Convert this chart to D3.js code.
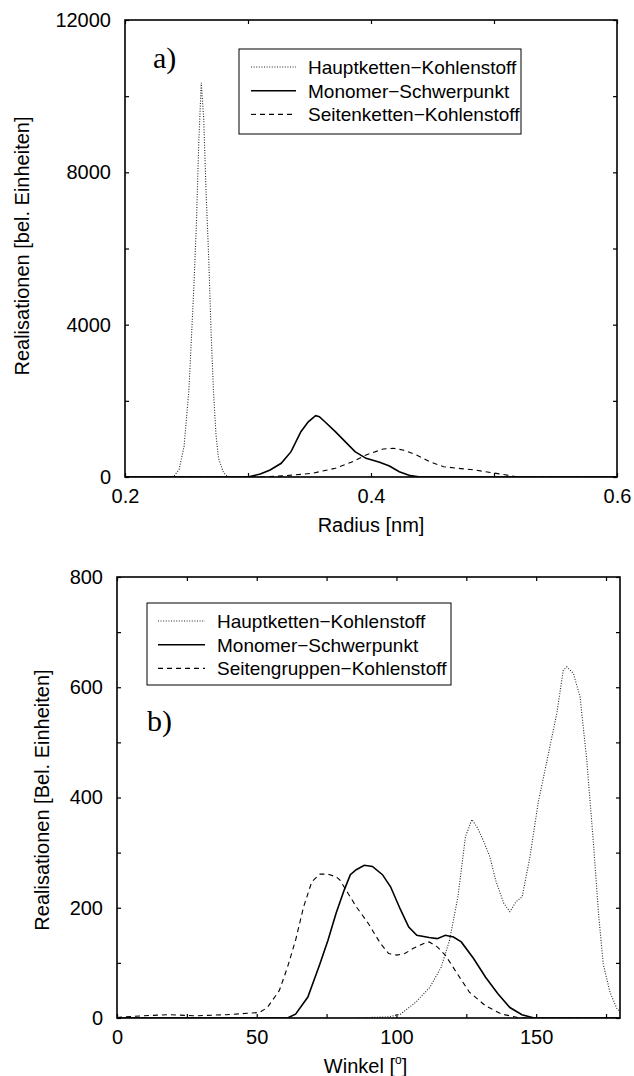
<!DOCTYPE html>
<html>
<head>
<meta charset="utf-8">
<title>Realisationen</title>
<script src="https://cdn.jsdelivr.net/npm/d3@7"></script>
<style>
	body { margin: 0; background: #fff; }
	svg text { font-family: "Liberation Sans", Arial, Helvetica, sans-serif; fill: #000; }
	.panel-label { font-family: "Liberation Serif", "Times New Roman", serif; }
</style>
</head>
<body>
<svg id="chart" width="634" height="1076"></svg>
<script>
// ---- panel a) : Radius-Verteilung ----
var radiusHaupt = [0.200, 0.236, 0.240, 0.244, 0.248, 0.252, 0.256, 0.258, 0.260, 0.262, 0.264, 0.266, 0.268, 0.270, 0.272, 0.274, 0.276, 0.280, 0.284, 0.600];
var valuesHauptA = [0, 0, 30, 200, 800, 2300, 5000, 6600, 8800, 10350, 9400, 7400, 5800, 3800, 2200, 1100, 500, 120, 0, 0];

var radiusMono = [0.200, 0.300, 0.310, 0.318, 0.327, 0.335, 0.343, 0.349, 0.355, 0.358, 0.3625, 0.371, 0.379, 0.387, 0.396, 0.407, 0.415, 0.423, 0.432, 0.440, 0.600];
var valuesMonoA = [0, 0, 80, 185, 360, 665, 1190, 1450, 1610, 1585, 1450, 1190, 930, 665, 490, 385, 290, 140, 35, 0, 0];

var radiusSeiten = [0.200, 0.310, 0.329, 0.352, 0.371, 0.385, 0.396, 0.410, 0.418, 0.426, 0.437, 0.448, 0.459, 0.473, 0.484, 0.498, 0.509, 0.517, 0.528, 0.600];
var valuesSeitenA = [0, 0, 30, 95, 230, 400, 580, 735, 755, 710, 580, 400, 270, 220, 185, 115, 60, 10, 0, 0];

var radiusTicks = [0.2, 0.3, 0.4, 0.5, 0.6];
var radiusLabels = [0.2, 0.4, 0.6];
var countTicksA = [0, 2000, 4000, 6000, 8000, 10000, 12000];
var countLabelsA = [0, 4000, 8000, 12000];
var legendA = ["Hauptketten\u2212Kohlenstoff", "Monomer\u2212Schwerpunkt", "Seitenketten\u2212Kohlenstoff"];

// ---- panel b) : Winkel-Verteilung ----
var winkelHaupt = [0, 84, 97, 101.5, 107, 112, 116, 119, 122, 124.7, 127, 129, 131, 133.4, 135.5, 138.4, 140.6, 142.8, 145, 147.8, 150.7, 154, 157.4, 159.7, 161, 163.3, 165.7, 168.1, 170.5, 172.3, 174, 176.4, 178.8, 180];
var valuesHauptB = [0, 0, 2, 7, 29, 56, 92, 141, 220, 329, 360, 345, 323, 293, 250, 208, 193, 211, 220, 293, 390, 470, 553, 631, 637, 625, 583, 468, 317, 190, 98, 47, 18, 12];

var winkelMono = [0, 61, 63.9, 68.3, 72.6, 75.5, 78.4, 81.3, 83.5, 85.6, 88.5, 91.4, 95, 97.9, 101.5, 104.4, 107.3, 111.7, 114.6, 117.5, 120.4, 123.2, 127.6, 131.9, 136.3, 140.6, 144.9, 149.3, 180];
var valuesMonoB = [0, 0, 7, 38, 98, 141, 190, 232, 260, 269, 277, 275, 260, 238, 196, 165, 150, 146, 144, 150, 147, 138, 108, 74, 44, 19, 6, 0, 0];

var winkelSeiten = [0, 9, 19, 28, 39, 46.6, 51, 53.8, 58.1, 61, 63.9, 66.8, 69.7, 72.6, 75.5, 78.4, 79.8, 82.7, 85.6, 90, 94.3, 97.2, 100.1, 103, 105.9, 110.2, 111.7, 114.6, 117.5, 121.8, 126.1, 131.9, 137.7, 143.5, 146.4, 180];
var valuesSeitenB = [1, 4, 6, 4, 6, 8.5, 10, 19, 50, 92, 141, 202, 247, 261, 261, 256, 250, 226, 202, 171, 135, 117, 114, 117, 126, 136, 138, 129, 114, 80, 47, 22, 7, 1, 0, 0];

var winkelTicks = [0, 25, 50, 75, 100, 125, 150, 175];
var winkelLabels = [0, 50, 100, 150];
var countTicksB = [0, 100, 200, 300, 400, 500, 600, 700, 800];
var countLabelsB = [0, 200, 400, 600, 800];
var legendB = ["Hauptketten\u2212Kohlenstoff", "Monomer\u2212Schwerpunkt", "Seitengruppen\u2212Kohlenstoff"];

// line styles: dotted, solid, dashed
var styles = [
	{ width: 1.1, dash: "1,1.6", color: "#222" },
	{ width: 1.6, dash: null, color: "#000" },
	{ width: 1.1, dash: "5,4", color: "#000" }
];

function zip(xs, ys) {
	return xs.map(function(x, i) { return { x: x, y: ys[i] }; });
}

var svg = d3.select("#chart");

function drawPanel(p) {
	var g = svg.append("g").attr("transform", "translate(" + p.left + "," + p.top + ")");

	var x = d3.scaleLinear().domain(p.xDomain).range([0, p.width]);
	var y = d3.scaleLinear().domain(p.yDomain).range([p.height, 0]);

	g.append("clipPath").attr("id", p.id + "-clip")
		.append("rect").attr("width", p.width).attr("height", p.height);

	var line = d3.line()
		.x(function(d) { return x(d.x); })
		.y(function(d) { return y(d.y); });

	// curves
	g.append("g").attr("clip-path", "url(#" + p.id + "-clip)")
		.selectAll("path")
		.data(p.series)
		.enter().append("path")
		.attr("d", function(d) { return line(d); })
		.attr("fill", "none")
		.attr("stroke", function(d, i) { return styles[i].color; })
		.attr("stroke-width", function(d, i) { return styles[i].width; })
		.attr("stroke-dasharray", function(d, i) { return styles[i].dash; });

	var xFmt = function(d) { return p.xLabels.indexOf(d) >= 0 ? p.xFormat(d) : ""; };
	var yFmt = function(d) { return p.yLabels.indexOf(d) >= 0 ? p.yFormat(d) : ""; };

	var axes = [
		{ ax: d3.axisBottom(x).tickValues(p.xTicks).tickFormat(xFmt).tickPadding(12), t: "translate(0," + p.height + ")" },
		{ ax: d3.axisTop(x).tickValues(p.xTicks).tickFormat(""), t: "translate(0,0)" },
		{ ax: d3.axisLeft(y).tickValues(p.yTicks).tickFormat(yFmt).tickPadding(14), t: "translate(0,0)" },
		{ ax: d3.axisRight(y).tickValues(p.yTicks).tickFormat(""), t: "translate(" + p.width + ",0)" }
	];
	axes.forEach(function(a) {
		var ag = g.append("g").attr("transform", a.t)
			.call(a.ax.tickSizeInner(-4).tickSizeOuter(0));
		ag.select(".domain").remove();
		ag.attr("font-size", 20).attr("font-family", null);
		ag.selectAll(".tick line").attr("stroke-width", 1.2);
	});

	// frame
	g.append("rect")
		.attr("width", p.width).attr("height", p.height)
		.attr("fill", "none").attr("stroke", "#000").attr("stroke-width", 1.6);

	// axis titles
	var xt = g.append("text")
		.attr("x", p.width / 2 + p.xTitleShift).attr("y", p.height + 55)
		.attr("text-anchor", "middle").attr("font-size", 20)
		.text(p.xTitle);
	if (p.xTitleSup) {
		xt.append("tspan").attr("font-size", 12).attr("dy", -9).text(p.xTitleSup);
		xt.append("tspan").attr("dy", 9).text("]");
	}

	g.append("text")
		.attr("transform", "translate(" + p.yTitleX + "," + p.yTitleY + ") rotate(-90)")
		.attr("text-anchor", "middle").attr("dy", "0.35em").attr("font-size", 20)
		.text(p.yTitle);

	// panel label
	g.append("text").attr("class", "panel-label")
		.attr("x", p.tag.x).attr("y", p.tag.y)
		.attr("font-size", 30)
		.text(p.tag.text);

	// legend
	var lg = g.append("g").attr("transform", "translate(" + p.legend.x + "," + p.legend.y + ")");
	lg.append("rect")
		.attr("width", p.legend.w).attr("height", p.legend.h)
		.attr("fill", "#fff").attr("stroke", "#000").attr("stroke-width", 1);
	var rows = lg.selectAll("g.row")
		.data(p.legendNames)
		.enter().append("g")
		.attr("class", "row")
		.attr("transform", function(d, i) { return "translate(0," + (18 + i * 23.7) + ")"; });
	rows.append("line")
		.attr("x1", p.legend.lineX1).attr("x2", p.legend.lineX2)
		.attr("stroke", function(d, i) { return styles[i].color; })
		.attr("stroke-width", function(d, i) { return styles[i].width; })
		.attr("stroke-dasharray", function(d, i) { return styles[i].dash; });
	rows.append("text")
		.attr("x", p.legend.textX).attr("y", 7)
		.attr("font-size", 19)
		.text(function(d) { return d; });
}

drawPanel({
	id: "a", left: 125, top: 20, width: 492, height: 457,
	xDomain: [0.2, 0.6], yDomain: [0, 12000],
	xTicks: radiusTicks, xLabels: radiusLabels, xFormat: d3.format(".1f"),
	yTicks: countTicksA, yLabels: countLabelsA, yFormat: d3.format("d"),
	series: [zip(radiusHaupt, valuesHauptA), zip(radiusMono, valuesMonoA), zip(radiusSeiten, valuesSeitenA)],
	xTitle: "Radius [nm]", xTitleShift: 0,
	yTitle: "Realisationen [bel. Einheiten]", yTitleX: -103, yTitleY: 226,
	tag: { text: "a)", x: 28, y: 48 },
	legend: { x: 114, y: 29, w: 282, h: 85, lineX1: 12, lineX2: 57, textX: 69 },
	legendNames: legendA
});

drawPanel({
	id: "b", left: 117, top: 577, width: 503, height: 441,
	xDomain: [0, 180], yDomain: [0, 800],
	xTicks: winkelTicks, xLabels: winkelLabels, xFormat: d3.format("d"),
	yTicks: countTicksB, yLabels: countLabelsB, yFormat: d3.format("d"),
	series: [zip(winkelHaupt, valuesHauptB), zip(winkelMono, valuesMonoB), zip(winkelSeiten, valuesSeitenB)],
	xTitle: "Winkel [", xTitleSup: "o", xTitleShift: -3,
	yTitle: "Realisationen [Bel. Einheiten]", yTitleX: -75, yTitleY: 223,
	tag: { text: "b)", x: 30, y: 154 },
	legend: { x: 30, y: 26, w: 304, h: 82, lineX1: 11, lineX2: 58, textX: 70 },
	legendNames: legendB
});
</script>
</body>
</html>
